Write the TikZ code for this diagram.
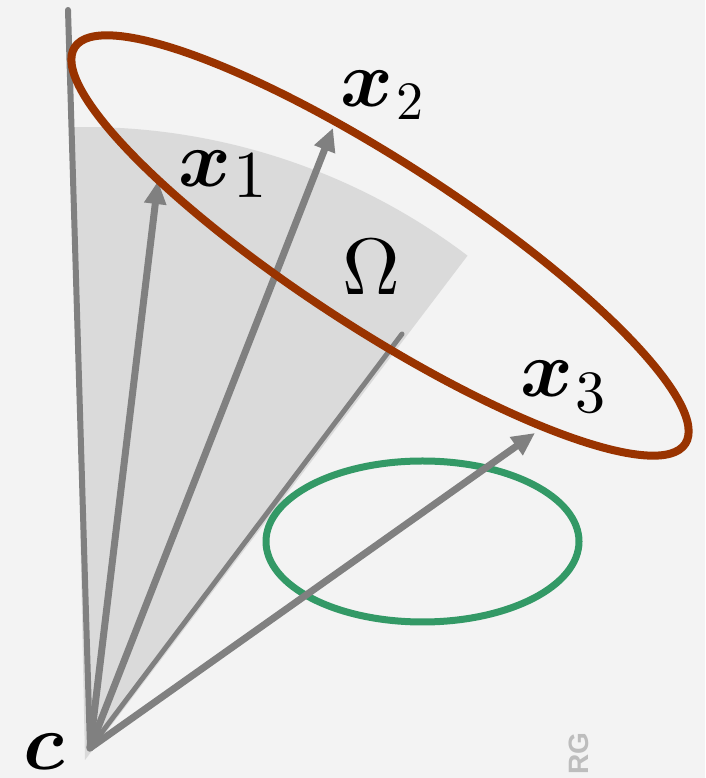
\documentclass[tikz,border=0pt]{standalone}
\usepackage{bm}
\usepackage{fontspec}
\newfontfamily\wmfont{Liberation Sans}
\usetikzlibrary{arrows.meta}
\definecolor{bg}{HTML}{F3F3F3}
\definecolor{sectorgray}{HTML}{DADADA}
\definecolor{raygray}{HTML}{808080}
\definecolor{redell}{HTML}{993300}
\definecolor{greenell}{HTML}{339966}
\definecolor{wmgray}{HTML}{BDBDBD}
\begin{document}
\begin{tikzpicture}[x=1pt,y=1pt,
  ray/.style={draw=raygray, line width=6pt, line cap=round},
  thinray/.style={draw=raygray, line width=5pt, line cap=round},
  arrowray/.style={draw=raygray, line width=7pt, line cap=round,
     -{Triangle[length=23pt,width=21pt]}, fill=raygray},
  lbl/.style={inner sep=0pt, anchor=base, font=\fontsize{10}{12}\selectfont, scale=8},
  sub/.style={inner sep=0pt, anchor=base, font=\fontsize{10}{12}\selectfont}
]
\useasboundingbox (0,0) rectangle (705,778);
\fill[bg] (0,0) rectangle (705,778);
% shaded sector Omega
\coordinate (sc) at (85,18);
\fill[sectorgray] (sc) -- ++(52.82:633) arc[start angle=52.82, end angle=91.18, radius=633] -- cycle;
% green ellipse
\coordinate (gc) at (422.5,236.5);
\draw[greenell, line width=7pt] (gc) ellipse [x radius=156.5, y radius=80.5];
% rays
\coordinate (c0) at (90,30);
\coordinate (tl) at (68,768);
\coordinate (t1) at (158,597);
\coordinate (t2) at (333,650);
\coordinate (t4) at (402,444);
\coordinate (t3) at (535,345);
\draw[ray] (c0) -- (tl);
\draw[thinray] (c0) -- (t4);
\draw[arrowray] (c0) -- (t1);
\draw[arrowray] (c0) -- (t2);
\draw[arrowray] (c0) -- (t3);
% red ellipse
\coordinate (rc) at (380,532.5);
\draw[redell, line width=8pt, rotate around={-33:(rc)}] (rc) ellipse [x radius=364, y radius=83];
% labels
\node[lbl] (x1) at (205,591) {$\bm{x}$};
\node[sub, scale=6.7] (x1s) at (250,580) {1};
\node[lbl] (x2) at (366.5,671) {$\bm{x}$};
\node[sub, scale=5.4] (x2s) at (410,658) {2};
\node[lbl] (x3) at (546.5,381) {$\bm{x}$};
\node[sub, scale=6.0] (x3s) at (590,365) {3};
\node[lbl] (om) at (371,483) {$\Omega$};
\node[lbl] (cl) at (44,8) {$\bm{c}$};
% watermark
\node[inner sep=0pt, rotate=90, text=wmgray, font=\wmfont\bfseries\fontsize{28}{28}\selectfont] (wm) at (579,24.5) {RG};
\end{tikzpicture}
\end{document}
